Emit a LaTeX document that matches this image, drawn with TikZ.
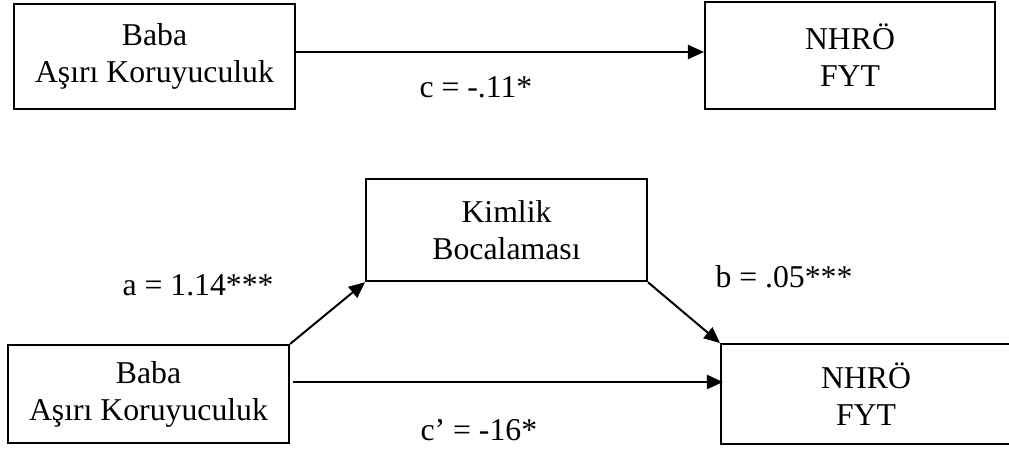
\documentclass[tikz,border=0pt]{standalone}
\usepackage{fontspec}
\setmainfont{Liberation Serif}
\usetikzlibrary{arrows.meta}

\begin{document}
\begin{tikzpicture}[x=0.4pt, y=-0.4pt,
  every node/.style={font=\fontsize{12.7}{14.8}\selectfont},
  box/.style={draw, line width=0.8pt, align=center, inner sep=0pt,
    minimum width=112.4pt, minimum height=41pt},
  coef/.style={anchor=base west, inner sep=0pt},
  path/.style={-{Triangle[length=6.4pt,width=5.6pt]}, line width=0.8pt}]
  \useasboundingbox (0,0) rectangle (1009,448);
  % model without mediator
  \node[box, minimum height=42pt] (xtop) at (154.5,56.5) {Baba\\Aşırı Koruyuculuk};
  \node[box, minimum width=116pt, minimum height=42.8pt] (ytop) at (850,55.5) {NHRÖ\\FYT};
  % model with mediator
  \node[box] (med) at (506.5,230) {Kimlik\\Bocalaması};
  \node[box, minimum height=39.2pt] (xbot) at (148.5,394) {Baba\\Aşırı Koruyuculuk};
  \node[box, minimum width=116pt, minimum height=40pt] (ybot) at (866,394) {NHRÖ\\FYT};
  % coefficients
  \node[coef] (c) at (419,97) {c = -.11*};
  \node[coef] (a) at (122,295) {a = 1.14***};
  \node[coef] (b) at (715,287) {b = .05***};
  \node[coef] (cp) at (420,440) {c’ = -16*};
  \draw[path] ([yshift=1.8pt]xtop.east) -- ([yshift=1.8pt]xtop.east -| ytop.west);
  \draw[path] (xbot.north east) -- (med.south west);
  \draw[path] (med.south east) -- (ybot.north west);
  \draw[path] ([shift={(1.2pt,4.8pt)}]xbot.east) -- ([shift={(1.2pt,4.8pt)}]xbot.east -| ybot.west);
\end{tikzpicture}
\end{document}
